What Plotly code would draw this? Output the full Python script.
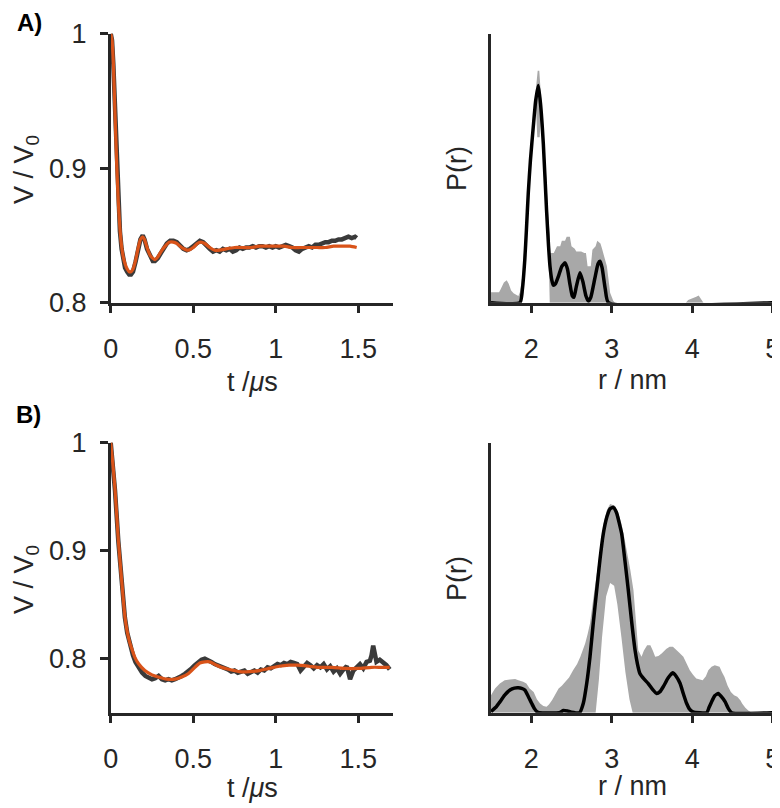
import plotly.graph_objects as go

# ---------------- Panel A, time domain ----------------
tA_fit = [0.000, 0.008, 0.016, 0.026, 0.036, 0.046, 0.056, 0.066, 0.076, 0.087, 0.100, 0.112,
          0.123, 0.135, 0.150, 0.165, 0.180, 0.194, 0.205, 0.220, 0.240, 0.255, 0.268, 0.285,
          0.305, 0.330, 0.355, 0.379, 0.400, 0.430, 0.470, 0.500, 0.525, 0.546, 0.570, 0.600,
          0.630, 0.660, 0.700, 0.750, 0.800, 0.850, 0.900, 0.950, 1.000, 1.050, 1.100, 1.150,
          1.200, 1.250, 1.300, 1.350, 1.400, 1.450, 1.490]
vA_fit = [1.000, 0.995, 0.978, 0.941, 0.904, 0.875, 0.855, 0.842, 0.834, 0.829, 0.825, 0.823,
          0.823, 0.825, 0.831, 0.840, 0.847, 0.849, 0.847, 0.841, 0.835, 0.833, 0.832, 0.834,
          0.838, 0.842, 0.845, 0.845, 0.844, 0.841, 0.839, 0.841, 0.844, 0.845, 0.844, 0.841,
          0.839, 0.839, 0.840, 0.841, 0.841, 0.841, 0.842, 0.842, 0.842, 0.842, 0.841, 0.841,
          0.841, 0.841, 0.841, 0.842, 0.842, 0.842, 0.841]

tA_dat = [0.000, 0.008, 0.016, 0.026, 0.036, 0.046, 0.056, 0.066, 0.076, 0.087, 0.100, 0.112,
          0.123, 0.135, 0.150, 0.165, 0.180, 0.194, 0.205, 0.220, 0.240, 0.255, 0.268, 0.285,
          0.305, 0.32, 0.34, 0.36, 0.38, 0.40, 0.42, 0.44, 0.46, 0.48, 0.50, 0.52, 0.54, 0.56,
          0.58, 0.60, 0.62, 0.64, 0.66, 0.68, 0.70, 0.72, 0.74, 0.76, 0.78, 0.80, 0.82, 0.84,
          0.86, 0.88, 0.90, 0.92, 0.94, 0.96, 0.98, 1.00, 1.02, 1.04, 1.06, 1.08, 1.10, 1.12,
          1.14, 1.16, 1.18, 1.20, 1.22, 1.24, 1.26, 1.28, 1.30, 1.32, 1.34, 1.36, 1.38, 1.40,
          1.42, 1.44, 1.46, 1.48, 1.49]
vA_dat = [1.000, 0.995, 0.977, 0.940, 0.903, 0.873, 0.853, 0.840, 0.832, 0.826, 0.823, 0.821,
          0.821, 0.823, 0.830, 0.839, 0.847, 0.850, 0.847, 0.840, 0.834, 0.831, 0.831, 0.833,
          0.837, 0.840, 0.844, 0.846, 0.846, 0.845, 0.842, 0.840, 0.839, 0.840, 0.842, 0.844,
          0.846, 0.845, 0.842, 0.840, 0.838, 0.839, 0.838, 0.840, 0.839, 0.840, 0.838, 0.839,
          0.841, 0.840, 0.841, 0.841, 0.842, 0.841, 0.842, 0.842, 0.841, 0.842, 0.841, 0.842,
          0.841, 0.842, 0.843, 0.842, 0.841, 0.839, 0.838, 0.840, 0.841, 0.842, 0.841, 0.843,
          0.843, 0.844, 0.845, 0.845, 0.846, 0.846, 0.847, 0.847, 0.848, 0.849, 0.848, 0.849,
          0.848]

# ---------------- Panel B, time domain ----------------
tB_fit = [0.000, 0.010, 0.026, 0.046, 0.066, 0.086, 0.100, 0.117, 0.135, 0.147, 0.170, 0.207,
          0.250, 0.288, 0.340, 0.389, 0.430, 0.469, 0.510, 0.540, 0.570, 0.600, 0.640, 0.670,
          0.720, 0.780, 0.840, 0.900, 0.960, 1.020, 1.080, 1.130, 1.200, 1.260, 1.340, 1.420,
          1.500, 1.580, 1.640, 1.690]
vB_fit = [1.000, 0.985, 0.957, 0.910, 0.873, 0.839, 0.825, 0.814, 0.806, 0.801, 0.795, 0.789,
          0.785, 0.783, 0.781, 0.781, 0.783, 0.786, 0.792, 0.796, 0.797, 0.797, 0.794, 0.792,
          0.790, 0.788, 0.788, 0.789, 0.791, 0.793, 0.794, 0.794, 0.793, 0.792, 0.792, 0.791,
          0.791, 0.792, 0.792, 0.792]

tB_dat = [0.000, 0.010, 0.026, 0.046, 0.066, 0.086, 0.100, 0.117, 0.135, 0.150, 0.17, 0.19,
          0.21, 0.23, 0.25, 0.27, 0.29, 0.31, 0.33, 0.35, 0.37, 0.39, 0.41, 0.43, 0.45, 0.47,
          0.49, 0.51, 0.53, 0.55, 0.57, 0.59, 0.61, 0.63, 0.65, 0.67, 0.69, 0.71, 0.73, 0.75,
          0.77, 0.79, 0.81, 0.83, 0.85, 0.87, 0.89, 0.91, 0.93, 0.95, 0.97, 0.99, 1.01, 1.03,
          1.05, 1.07, 1.09, 1.11, 1.13, 1.15, 1.17, 1.19, 1.21, 1.23, 1.25, 1.27, 1.29, 1.31,
          1.33, 1.35, 1.37, 1.39, 1.41, 1.43, 1.45, 1.47, 1.49, 1.51, 1.53, 1.55, 1.57, 1.58,
          1.59, 1.60, 1.61, 1.63, 1.65, 1.67, 1.69]
vB_dat = [1.000, 0.985, 0.956, 0.909, 0.872, 0.838, 0.824, 0.812, 0.803, 0.797, 0.792, 0.787,
          0.784, 0.782, 0.781, 0.782, 0.784, 0.781, 0.780, 0.781, 0.780, 0.781, 0.782, 0.784,
          0.786, 0.788, 0.791, 0.794, 0.797, 0.799, 0.800, 0.799, 0.797, 0.795, 0.794, 0.793,
          0.791, 0.790, 0.788, 0.789, 0.787, 0.788, 0.789, 0.786, 0.788, 0.789, 0.787, 0.790,
          0.789, 0.792, 0.791, 0.793, 0.795, 0.794, 0.796, 0.795, 0.797, 0.796, 0.795, 0.789,
          0.793, 0.796, 0.794, 0.791, 0.794, 0.792, 0.795, 0.790, 0.793, 0.788, 0.791, 0.786,
          0.790, 0.793, 0.781, 0.789, 0.792, 0.795, 0.791, 0.797, 0.798, 0.803, 0.812, 0.802,
          0.797, 0.799, 0.797, 0.794, 0.790]

# ---------------- Panel A, distance distribution ----------------
rA_fit = [1.50, 1.86, 1.89, 1.92, 1.94, 1.963, 1.99, 2.025, 2.055, 2.088, 2.115, 2.15, 2.19,
          2.215, 2.233, 2.255, 2.274, 2.30, 2.34, 2.38, 2.42, 2.45, 2.48, 2.51, 2.53, 2.56,
          2.605, 2.64, 2.68, 2.71, 2.74, 2.79, 2.83, 2.854, 2.88, 2.92, 2.96, 5.00]
pA_fit = [0.0, 0.0, 0.05, 0.16, 0.27, 0.406, 0.53, 0.653, 0.75, 0.807, 0.74, 0.591, 0.345,
          0.21, 0.135, 0.085, 0.065, 0.07, 0.10, 0.135, 0.148, 0.125, 0.07, 0.025, 0.02, 0.06,
          0.111, 0.08, 0.025, 0.006, 0.02, 0.09, 0.145, 0.154, 0.13, 0.05, 0.0, 0.0]

rA_up = [1.50, 1.60, 1.62, 1.66, 1.695, 1.72, 1.75, 1.78, 1.84, 1.86, 1.89, 1.92, 1.95, 1.98,
         2.02, 2.06, 2.08, 2.10, 2.12, 2.15, 2.18, 2.21, 2.23, 2.235, 2.28, 2.32, 2.36, 2.38,
         2.42, 2.44, 2.48, 2.50, 2.54, 2.56, 2.62, 2.66, 2.68, 2.70, 2.74, 2.76, 2.80, 2.82,
         2.86, 2.88, 2.92, 2.94, 2.98, 3.02, 3.04, 3.92, 3.95, 4.00, 4.05, 4.08, 4.11, 4.14, 5.00]
pA_up = [0.039, 0.039, 0.05, 0.075, 0.083, 0.07, 0.045, 0.035, 0.025, 0.04, 0.10, 0.22, 0.36,
         0.50, 0.68, 0.80, 0.862, 0.862, 0.78, 0.66, 0.50, 0.33, 0.25, 0.185, 0.185, 0.21,
         0.21, 0.23, 0.23, 0.245, 0.245, 0.21, 0.20, 0.19, 0.19, 0.185, 0.185, 0.135, 0.135,
         0.197, 0.21, 0.23, 0.22, 0.20, 0.16, 0.135, 0.037, 0.006, 0.0, 0.0, 0.01, 0.015,
         0.022, 0.027, 0.015, 0.0, 0.0]

rA_lo = [1.50, 1.86, 1.90, 1.94, 1.99, 2.03, 2.06, 2.075, 2.105, 2.12, 2.15, 2.19, 2.215,
         2.23, 5.00]
pA_lo = [0.0, 0.0, 0.03, 0.23, 0.50, 0.65, 0.72, 0.615, 0.615, 0.70, 0.57, 0.32, 0.18,
         0.0, 0.0]

# ---------------- Panel B, distance distribution ----------------
rB_fit = [1.50, 1.56, 1.61, 1.67, 1.736, 1.79, 1.84, 1.88, 1.92, 1.96, 2.005, 2.04, 2.07,
          2.10, 2.35, 2.40, 2.45, 2.50, 2.60, 2.647, 2.69, 2.73, 2.77, 2.813, 2.855, 2.895,
          2.94, 2.98, 3.02, 3.06, 3.095, 3.124, 3.165, 3.206, 3.25, 3.29, 3.32, 3.35, 3.40,
          3.454, 3.51, 3.558, 3.60, 3.64, 3.70, 3.757, 3.80, 3.85, 3.89, 3.93, 3.97, 4.01,
          4.18, 4.21, 4.24, 4.28, 4.324, 4.36, 4.41, 4.45, 4.49, 5.00]
pB_fit = [0.004, 0.02, 0.04, 0.065, 0.084, 0.091, 0.092, 0.09, 0.084, 0.062, 0.035, 0.015,
          0.004, 0.0, 0.0, 0.008, 0.006, 0.002, 0.0, 0.035, 0.11, 0.207, 0.33, 0.453, 0.57,
          0.662, 0.725, 0.755, 0.76, 0.74, 0.70, 0.662, 0.56, 0.453, 0.33, 0.231, 0.18, 0.145,
          0.125, 0.108, 0.085, 0.071, 0.078, 0.096, 0.128, 0.148, 0.135, 0.108, 0.07, 0.035,
          0.012, 0.003, 0.0, 0.02, 0.04, 0.063, 0.071, 0.06, 0.04, 0.015, 0.0, 0.0]

rB_up = [1.50, 1.55, 1.61, 1.67, 1.736, 1.80, 1.84, 1.90, 1.94, 1.98, 2.03, 2.07, 2.11, 2.15,
         2.19, 2.22, 2.26, 2.30, 2.34, 2.38, 2.42, 2.47, 2.52, 2.57, 2.61, 2.64, 2.67, 2.70,
         2.73, 2.77, 2.81, 2.855, 2.90, 2.94, 2.98, 3.04, 3.08, 3.12, 3.155, 3.19, 3.23, 3.27,
         3.30, 3.33, 3.37, 3.40, 3.44, 3.48, 3.51, 3.54, 3.58, 3.62, 3.68, 3.72, 3.76, 3.80,
         3.83, 3.89, 3.93, 3.97, 4.01, 4.05, 4.13, 4.17, 4.20, 4.24, 4.28, 4.34, 4.37, 4.40,
         4.44, 4.48, 4.52, 4.56, 4.60, 4.62, 4.66, 4.70, 4.74, 5.00]
pB_up = [0.065, 0.09, 0.108, 0.12, 0.123, 0.125, 0.12, 0.115, 0.108, 0.09, 0.077, 0.05,
         0.034, 0.025, 0.022, 0.03, 0.047, 0.07, 0.09, 0.10, 0.114, 0.13, 0.157, 0.18, 0.207,
         0.23, 0.256, 0.29, 0.33, 0.42, 0.50, 0.60, 0.70, 0.75, 0.772, 0.766, 0.74, 0.70,
         0.65, 0.60, 0.53, 0.453, 0.34, 0.231, 0.207, 0.23, 0.25, 0.25, 0.23, 0.207, 0.21,
         0.219, 0.237, 0.244, 0.244, 0.235, 0.225, 0.207, 0.18, 0.157, 0.14, 0.127, 0.12,
         0.135, 0.157, 0.17, 0.176, 0.17, 0.15, 0.133, 0.10, 0.077, 0.065, 0.059, 0.045,
         0.034, 0.018, 0.007, 0.0, 0.0]

rB_lo = [1.50, 2.80, 2.84, 2.88, 2.93, 2.98, 3.03, 3.07, 3.12, 3.17, 3.22, 3.26, 5.00]
pB_lo = [0.0, 0.0, 0.12, 0.28, 0.43, 0.48, 0.47, 0.40, 0.28, 0.15, 0.05, 0.0, 0.0]

t_ticks = [0, 0.5, 1, 1.5]
t_ticklabels = ["0", "0.5", "1", "1.5"]
vA_ticks = [0.8, 0.9, 1.0]
vA_ticklabels = ["0.8", "0.9", "1"]
vB_ticks = [0.8, 0.9, 1.0]
vB_ticklabels = ["0.8", "0.9", "1"]
r_ticks = [2, 3, 4, 5]
r_ticklabels = ["2", "3", "4", "5"]

# ---------------- styles ----------------
W, H = 780, 808
OFF = 8  # page body margin of the written html
FONT = "Liberation Sans, Arial, Helvetica, sans-serif"
AX = "#262626"
ORANGE = "#D95319"
DATA = "#3A3A3A"
BAND = "#A8A8A8"

def fx(px):
    return (px - OFF) / W

def fy(py):
    return 1 - (py - OFF) / H

XL = [fx(110.7), fx(393.0)]
XR = [fx(491.0), fx(772.7)]
YT = [fy(302.7), fy(33.5)]
YB = [fy(712.7), fy(442.5)]

fig = go.Figure()

fig.add_trace(go.Scatter(x=tA_dat, y=vA_dat, mode="lines", line=dict(color=DATA, width=4.5),
                         xaxis="x", yaxis="y", showlegend=False))
fig.add_trace(go.Scatter(x=tA_fit, y=vA_fit, mode="lines",
                         line=dict(color=ORANGE, width=3.2, shape="spline", smoothing=0.6),
                         xaxis="x", yaxis="y", showlegend=False))
fig.add_trace(go.Scatter(x=tB_dat, y=vB_dat, mode="lines", line=dict(color=DATA, width=4.5),
                         xaxis="x3", yaxis="y3", showlegend=False))
fig.add_trace(go.Scatter(x=tB_fit, y=vB_fit, mode="lines",
                         line=dict(color=ORANGE, width=3.2, shape="spline", smoothing=0.6),
                         xaxis="x3", yaxis="y3", showlegend=False))

def band(r_up, p_up, r_lo, p_lo, xa, ya):
    xs = list(r_up) + list(reversed(r_lo))
    ys = list(p_up) + list(reversed(p_lo))
    return go.Scatter(x=xs, y=ys, mode="lines", fill="toself", fillcolor=BAND,
                      line=dict(width=0, color=BAND), xaxis=xa, yaxis=ya,
                      showlegend=False, hoverinfo="skip")

fig.add_trace(band(rA_up, pA_up, rA_lo, pA_lo, "x2", "y2"))
fig.add_trace(go.Scatter(x=rA_fit, y=pA_fit, mode="lines",
                         line=dict(color="black", width=3.5, shape="spline", smoothing=0.5),
                         xaxis="x2", yaxis="y2", showlegend=False))
fig.add_trace(band(rB_up, pB_up, rB_lo, pB_lo, "x4", "y4"))
fig.add_trace(go.Scatter(x=rB_fit, y=pB_fit, mode="lines",
                         line=dict(color="black", width=3.5, shape="spline", smoothing=0.5),
                         xaxis="x4", yaxis="y4", showlegend=False))

common = dict(showline=True, linewidth=2.5, linecolor=AX, showgrid=False, zeroline=False,
              ticklen=8, tickwidth=2.5, tickcolor=AX,
              tickfont=dict(family=FONT, size=27, color=AX), automargin=False)

fig.update_layout(
    width=W, height=H, margin=dict(l=0, r=0, t=0, b=0),
    paper_bgcolor="white", plot_bgcolor="white",
    xaxis=dict(domain=XL, anchor="y", range=[0, 1.71], tickvals=t_ticks, ticktext=t_ticklabels,
               ticks="outside", ticklabelstandoff=12, **common),
    yaxis=dict(domain=YT, anchor="x", range=[0.8, 1.0], tickvals=vA_ticks, ticktext=vA_ticklabels,
               ticks="outside", ticklabelstandoff=8, **common),
    xaxis2=dict(domain=XR, anchor="y2", range=[1.5, 5.0], tickvals=r_ticks, ticktext=r_ticklabels,
                ticks="outside", ticklabelstandoff=12, **common),
    yaxis2=dict(domain=YT, anchor="x2", range=[0, 1.0], showticklabels=False, ticks="", **common),
    xaxis3=dict(domain=XL, anchor="y3", range=[0, 1.71], tickvals=t_ticks, ticktext=t_ticklabels,
                ticks="outside", ticklabelstandoff=12, **common),
    yaxis3=dict(domain=YB, anchor="x3", range=[0.75, 1.0], tickvals=vB_ticks, ticktext=vB_ticklabels,
                ticks="outside", ticklabelstandoff=8, **common),
    xaxis4=dict(domain=XR, anchor="y4", range=[1.5, 5.0], tickvals=r_ticks, ticktext=r_ticklabels,
                ticks="outside", ticklabelstandoff=12, **common),
    yaxis4=dict(domain=YB, anchor="x4", range=[0, 1.0], showticklabels=False, ticks="", **common),
)

tf = dict(family=FONT, size=27, color=AX)
def ann(text, x, y, angle=0, font=tf, xanchor="center", yanchor="middle"):
    fig.add_annotation(text=text, x=x, y=y, xref="paper", yref="paper",
                       showarrow=False, textangle=angle, font=font,
                       xanchor=xanchor, yanchor=yanchor, borderpad=0)

bold = dict(family=FONT, size=24, color="black")
ann("<b>A)</b>", fx(29), 1.0, font=bold, yanchor="top")
ann("<b>B)</b>", fx(28), fy(414), font=bold)
ann("V / V<sub>0</sub>", 0.0, fy(170), angle=-90, xanchor="left")
ann("V / V<sub>0</sub>", 0.0, fy(580), angle=-90, xanchor="left")
ann("P(r)", fx(457), fy(168), angle=-90)
ann("P(r)", fx(457), fy(578), angle=-90)
ann("t /<i>μ</i>s", fx(252), fy(382))
ann("t /<i>μ</i>s", fx(252), fy(788))
ann("r / nm", fx(632), fy(380))
ann("r / nm", fx(632), fy(786))

fig.write_html("out.html")
